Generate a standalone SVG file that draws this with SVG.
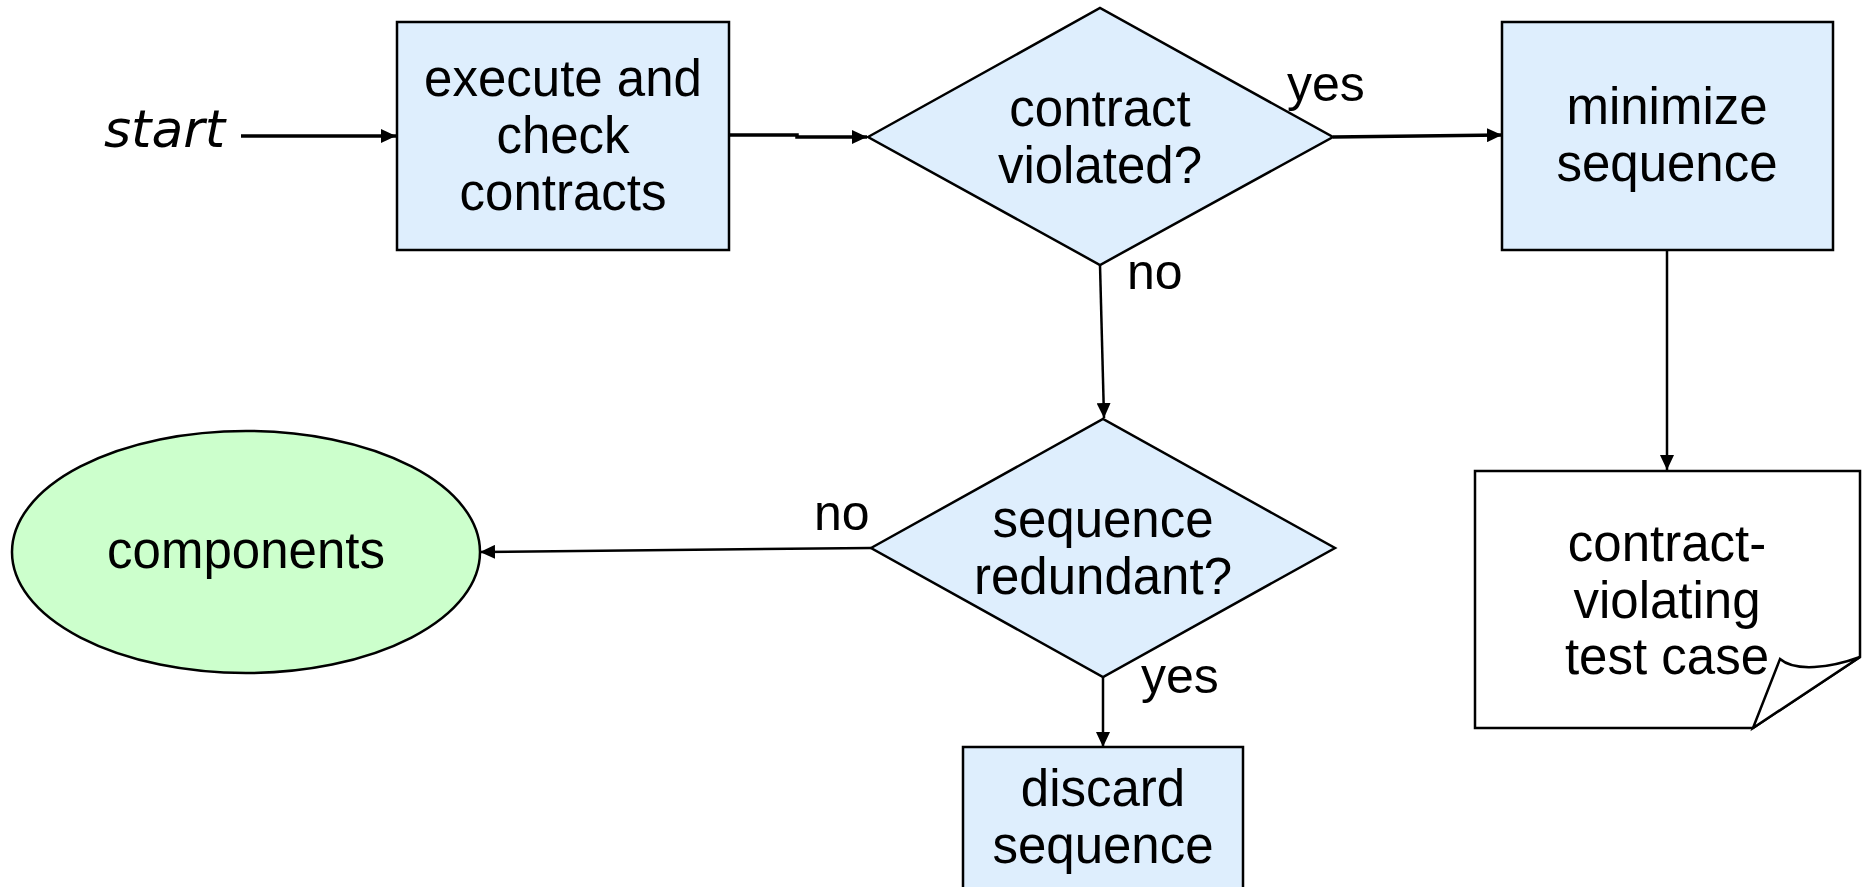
<svg xmlns="http://www.w3.org/2000/svg" width="1864" height="887" viewBox="0 0 1864 887">
<defs>
<style>
.box{fill:#DEEEFD;stroke:#000;stroke-width:2.5}
.ell{fill:#CCFFCC;stroke:#000;stroke-width:2.5}
.doc{fill:#fff;stroke:#000;stroke-width:2.5;stroke-linejoin:miter}
.t{font-family:"Liberation Sans",Arial,sans-serif;font-size:51px;fill:#000;text-anchor:middle}
.lbl{font-family:"Liberation Sans",Arial,sans-serif;font-size:50px;fill:#000}
.st{font-family:"DejaVu Sans",Verdana,sans-serif;font-style:italic;font-size:52px;fill:#000}
.c{fill:none;stroke:#000;stroke-width:2.5}
.ct{fill:none;stroke:#000;stroke-width:3.5}
</style>
<marker id="ah" markerUnits="userSpaceOnUse" markerWidth="16" markerHeight="14" refX="15" refY="7" orient="auto">
<path d="M0,0 L15,7 L0,14 Z" fill="#000"/>
</marker>
</defs>
<rect width="1864" height="887" fill="#fff"/>
<g id="connectors">
<line class="ct" x1="241" y1="136" x2="396" y2="136" marker-end="url(#ah)"/>
<polyline class="ct" points="729,135 797,135 797,137 867,137" marker-end="url(#ah)"/>
<line class="ct" x1="1333" y1="137" x2="1502" y2="135" marker-end="url(#ah)"/>
<line class="c" x1="1100" y1="265" x2="1104" y2="418" marker-end="url(#ah)"/>
<line class="c" x1="1667" y1="250" x2="1667" y2="470" marker-end="url(#ah)"/>
<line class="c" x1="871" y1="548" x2="480" y2="552" marker-end="url(#ah)"/>
<line class="c" x1="1103" y1="677" x2="1103" y2="747" marker-end="url(#ah)"/>
<text class="lbl" x="1287" y="101">yes</text>
<text class="lbl" x="1127" y="289">no</text>
<text class="lbl" x="814" y="530">no</text>
<text class="lbl" x="1141" y="693">yes</text>
</g>
<g id="start">
<text class="st" x="104" y="147">start</text>
</g>
<g id="execute">
<rect class="box" x="397" y="22" width="332" height="228"/>
<text class="t" x="563" y="96">execute and</text>
<text class="t" x="563" y="153">check</text>
<text class="t" x="563" y="210">contracts</text>
</g>
<g id="violated">
<polygon class="box" points="868,137 1100,8 1333,137 1100,265"/>
<text class="t" x="1100" y="126">contract</text>
<text class="t" x="1100" y="183">violated?</text>
</g>
<g id="minimize">
<rect class="box" x="1502" y="22" width="331" height="228"/>
<text class="t" x="1667" y="124">minimize</text>
<text class="t" x="1667" y="181">sequence</text>
</g>
<g id="redundant">
<polygon class="box" points="871,548 1103,419 1335,548 1103,677"/>
<text class="t" x="1103" y="537">sequence</text>
<text class="t" x="1103" y="594">redundant?</text>
</g>
<g id="components">
<ellipse class="ell" cx="246" cy="552" rx="234" ry="121"/>
<text class="t" x="246" y="568">components</text>
</g>
<g id="discard">
<rect class="box" x="963" y="747" width="280" height="160"/>
<text class="t" x="1103" y="806">discard</text>
<text class="t" x="1103" y="863">sequence</text>
</g>
<g id="testcase">
<path class="doc" d="M1475,471 H1860 V657 L1753,728 H1475 Z"/>
<path class="doc" d="M1753,728 L1780,659 C1795,672 1830,668 1860,657 Z"/>
<text class="t" x="1667" y="561">contract-</text>
<text class="t" x="1667" y="618">violating</text>
<text class="t" x="1667" y="674">test case</text>
</g>
</svg>
